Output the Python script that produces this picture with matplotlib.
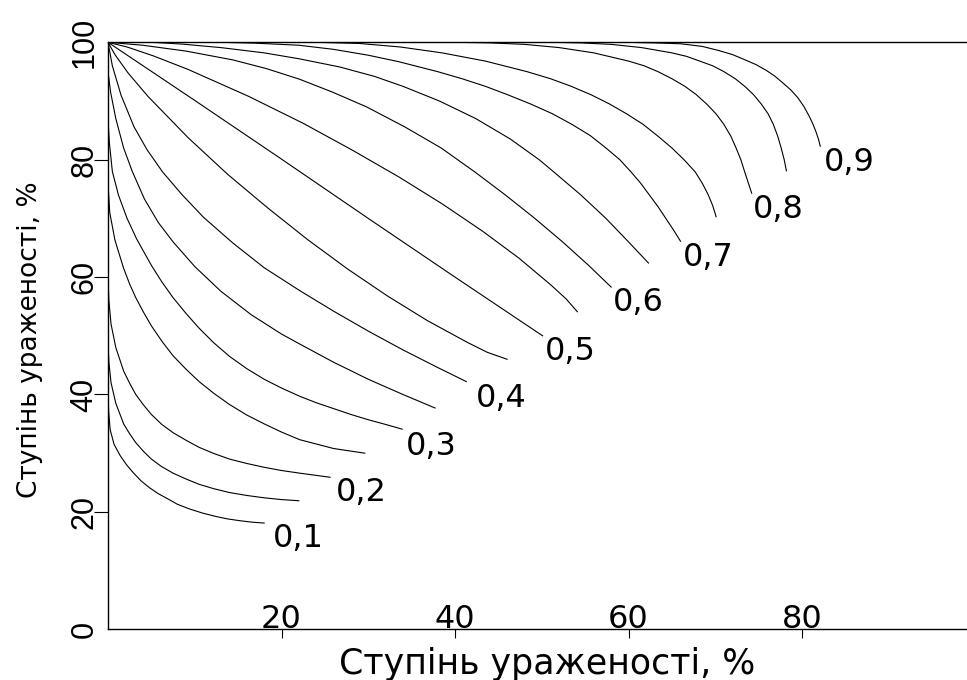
import matplotlib
matplotlib.use("Agg")
import matplotlib.pyplot as plt

# ---- data (x = %, y = %) ----
c10_x = [0, 0.08, 0.25, 0.7, 1.4, 2.1, 2.9, 3.8, 4.8, 5.8, 6.8, 8.0, 9.4, 10.9, 12.5, 13.8, 15.2, 16.6, 18.0]
c10_y = [40.5, 37, 34, 31.5, 29.6, 28.1, 26.7, 25.3, 24.1, 23.1, 22.3, 21.3, 20.5, 19.8, 19.2, 18.8, 18.5, 18.25, 18.1]
c15_x = [0, 0.1, 0.35, 0.9, 1.8, 2.5, 3.2, 4.1, 5, 6.2, 7.5, 9, 10.5, 12.2, 14, 16, 18, 20, 22.0]
c15_y = [49, 45.5, 42, 38.5, 35, 33.3, 31.8, 30.3, 29, 27.7, 26.6, 25.6, 24.7, 23.95, 23.3, 22.8, 22.4, 22.1, 21.9]
c20_x = [0, 0.1, 0.35, 0.9, 1.8, 2.5, 3.2, 4.1, 5, 6.2, 7.5, 9, 10.5, 12.2, 14, 16, 18, 20, 22.1, 25.6]
c20_y = [60, 56, 52, 48, 44, 41.9, 40, 38.2, 36.6, 34.9, 33.5, 32.2, 31, 29.95, 29, 28.25, 27.6, 27.05, 26.6, 25.9]
c25_x = [0, 0.2, 0.8, 1.8, 2.5, 3.2, 4.1, 5, 6.2, 7.5, 9, 10.5, 12.2, 14, 16, 18, 20, 22.1, 26, 29.6]
c25_y = [76, 71, 66.3, 61.5, 58.8, 56.5, 54, 51.7, 49.1, 46.6, 44.3, 42.2, 40.2, 38.3, 36.5, 35, 33.6, 32.3, 30.8, 30.0]
c30_x = [0, 0.15, 0.5, 1.2, 2.2, 3.3, 5, 6.2, 7.5, 9, 10.5, 12.2, 14, 16, 18, 20, 22.1, 24, 26, 28, 30, 32, 33.9]
c30_y = [87, 83, 78, 74, 70, 66.5, 62, 59.2, 56.5, 53.8, 51.3, 48.8, 46.5, 44.4, 42.6, 41.1, 39.7, 38.6, 37.6, 36.6, 35.7, 34.9, 34.1]
c35_x = [0, 0.3, 0.9, 1.8, 2.8, 4.2, 5.8, 7.5, 10, 13, 16.5, 20, 22.1, 26, 30, 34, 37.7]
c35_y = [95, 91.5, 87, 82, 78, 73.3, 69.3, 66, 61.8, 57.6, 53.6, 50.3, 48.6, 45.5, 42.6, 40, 37.7]
c40_x = [0, 0.5, 1.5, 3, 4.5, 6.3, 8.5, 11, 14.4, 18, 22.1, 26, 30, 34, 38, 41.3]
c40_y = [100, 96, 91, 85.6, 81.7, 77.9, 74.1, 70.2, 65.8, 61.6, 57.7, 54.2, 50.8, 47.6, 44.6, 42.2]
c45_x = [0, 0.8, 2.3, 4.6, 9.2, 13.8, 18.4, 23, 27.6, 32.2, 36.8, 41.4, 43.7, 46.0]
c45_y = [100, 97.9, 94.8, 90.8, 83.8, 77.5, 71.8, 66.4, 61.4, 56.8, 52.6, 48.9, 47.2, 46.0]
c50_x = [0, 10, 20, 30, 40, 50.1]
c50_y = [100, 90.1, 80.1, 70.0, 60.0, 50.0]
c55_x = [0, 2.2, 5.2, 9.2, 16.2, 22.5, 28.2, 33.6, 38.6, 43.2, 47.4, 51.1, 52.8, 54.1]
c55_y = [100, 99.2, 97.7, 95.4, 90.8, 86.2, 81.6, 77, 72.4, 67.8, 63.2, 58.6, 56.3, 54.1]
c60_x = [0, 4, 9, 14.4, 18.3, 22.1, 25.9, 29.8, 34.2, 38.4, 42.3, 45.8, 49.2, 52.4, 55.4, 58.0]
c60_y = [100, 99.5, 98.5, 97, 95.5, 93.7, 91.5, 89, 85.6, 82, 77.9, 74, 70, 66, 62, 58.3]
c65_x = [0, 5, 8.5, 13, 18, 22, 26.7, 30.7, 34, 38.2, 42.4, 46.4, 49.7, 51.4, 54.5, 57.4, 60, 62.3]
c65_y = [100, 100, 99.7, 99.1, 98.2, 97.2, 95.8, 94.2, 92.5, 90, 87, 83.5, 80, 77.9, 74, 70, 66, 62.4]
c70_x = [0, 13, 17, 22, 26, 30, 33.5, 38, 40.8, 43.5, 46.1, 48.7, 51.2, 53.5, 55.6, 57.4, 59, 60.3, 61.4, 62.4, 63.4, 64.3, 65.2, 66.0]
c70_y = [100, 100, 99.85, 99.5, 98.8, 97.8, 96.7, 95, 93.8, 92.5, 91.05, 89.5, 87.85, 86, 84.1, 82, 80, 77.9, 76, 74, 72, 70, 68, 66.1]
c75_x = [0, 24, 29, 33.7, 38.5, 43.5, 48.3, 51, 53.4, 55.7, 57.8, 59.8, 61.7, 63.4, 65, 66.4, 67.7, 68.5, 69.2, 69.7, 70.1]
c75_y = [100, 100, 99.8, 99.2, 98.2, 96.8, 95, 93.8, 92.5, 91.05, 89.5, 87.8, 86, 84, 82, 80, 77.9, 76, 74, 72.2, 70.3]
c80_x = [0, 40, 44, 48, 52, 56, 60, 61.8, 63.4, 65, 66.5, 67.8, 69, 70.1, 71, 71.8, 72.4, 72.95, 73.4, 73.8, 74.2]
c80_y = [100, 100, 99.9, 99.65, 99.1, 98.2, 96.8, 96, 95, 93.8, 92.5, 91.1, 89.5, 87.8, 86, 84, 82, 80, 77.9, 76.1, 74.3]
c85_x = [0, 51, 54.5, 58, 61.5, 65, 66.7, 68.2, 69.7, 71, 72.3, 73.4, 74.4, 75.3, 76.1, 76.7, 77.2, 77.6, 77.95, 78.2]
c85_y = [100, 100, 99.9, 99.65, 99.1, 98.2, 97.6, 96.8, 96, 95, 93.8, 92.5, 91.1, 89.5, 87.8, 86, 84, 82, 80, 78.1]
c90_x = [0, 59.5, 63, 66, 68.5, 70.4, 72, 73.3, 74.7, 75.9, 76.9, 77.7, 78.7, 79.5, 80.2, 80.8, 81.25, 81.6, 81.9, 82.1]
c90_y = [100, 100, 99.9, 99.75, 99.3, 98.6, 97.9, 97.1, 96.2, 95.2, 94.2, 93.2, 91.9, 90.6, 89.1, 87.5, 86.1, 84.8, 83.5, 82.3]

curves_x = [c10_x, c15_x, c20_x, c25_x, c30_x, c35_x, c40_x, c45_x, c50_x,
            c55_x, c60_x, c65_x, c70_x, c75_x, c80_x, c85_x, c90_x]
curves_y = [c10_y, c15_y, c20_y, c25_y, c30_y, c35_y, c40_y, c45_y, c50_y,
            c55_y, c60_y, c65_y, c70_y, c75_y, c80_y, c85_y, c90_y]

# labels of every second curve, anchored at their upper-left corner
label_text = ["0,1", "0,2", "0,3", "0,4", "0,5", "0,6", "0,7", "0,8", "0,9"]
label_x = [19.0, 26.3, 34.3, 42.4, 50.4, 58.2, 66.3, 74.3, 82.5]
label_y = [18.1, 25.9, 33.7, 41.9, 50.0, 58.3, 66.0, 74.2, 82.2]

x_ticks = [20, 40, 60, 80]
y_ticks = [0, 20, 40, 60, 80, 100]
x_label = "Ступінь ураженості, %"
y_label = "Ступінь ураженості, %"

# ---- figure ----
W, H = 967, 680
fig = plt.figure(figsize=(W / 100, H / 100), dpi=100)
ax = fig.add_axes([108 / W, 50.7 / H, 867.5 / W, 587 / H])
ax.set_xlim(0, 100)
ax.set_ylim(0, 100)

for xs, ys in zip(curves_x, curves_y):
    ax.plot(xs, ys, color="black", lw=0.8, solid_joinstyle="round")

for txt, lx, ly in zip(label_text, label_x, label_y):
    ax.text(lx, ly, txt, ha="left", va="top", fontsize=23,
            family="DejaVu Sans", color="black")

for s in ["left", "bottom", "top"]:
    ax.spines[s].set_linewidth(1.0)
ax.spines["right"].set_visible(False)

ax.set_xticks(x_ticks)
ax.set_xticklabels([str(v) for v in x_ticks], fontsize=23, family="DejaVu Sans")
ax.tick_params(axis="x", direction="out", length=6.5, width=0.8, pad=-2.5)
for t in ax.get_xticklabels():
    t.set_verticalalignment("bottom")

ax.set_yticks(y_ticks)
ax.set_yticklabels([str(v) for v in y_ticks], fontsize=22,
                   family="Liberation Sans", rotation=90, va="center")
ax.tick_params(axis="y", direction="out", length=10, width=0.8, pad=-4)
yt = ax.yaxis.get_major_ticks()
yt[0].tick1line.set_visible(False)
yt[-1].tick1line.set_visible(False)

fig.text(547 / W, 1 - 664 / H, x_label, ha="center", va="center",
         fontsize=25, family="DejaVu Sans")
fig.text(30 / W, 1 - 340 / H, y_label, ha="center", va="center",
         rotation=90, fontsize=19, family="DejaVu Sans")

fig.savefig("out.png", dpi=100)
